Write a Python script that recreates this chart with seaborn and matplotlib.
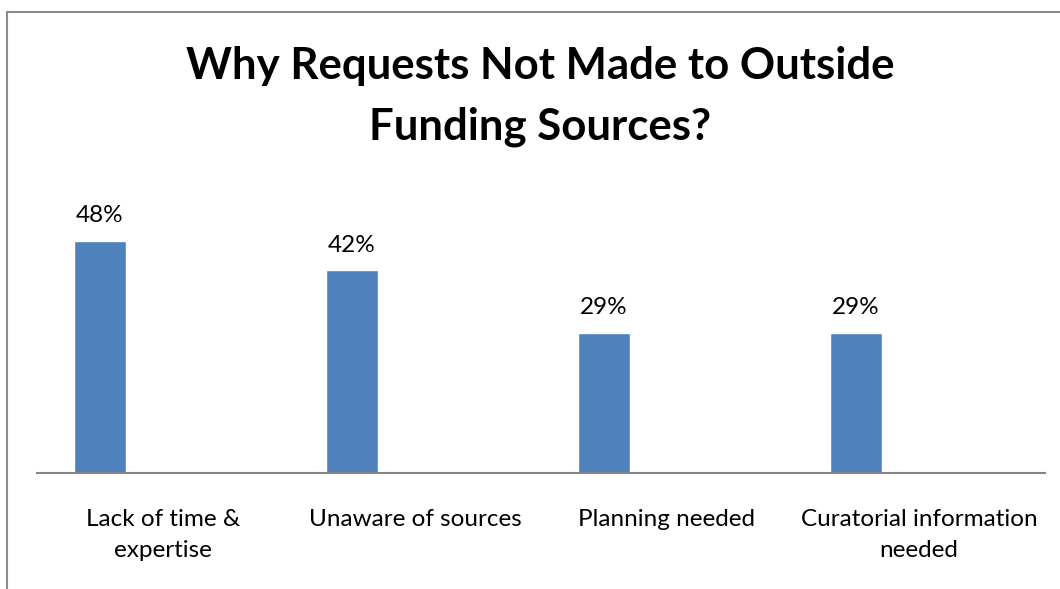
import matplotlib
matplotlib.use("Agg")
import matplotlib.pyplot as plt
import seaborn as sns
import pandas as pd
from matplotlib.lines import Line2D

categories = ["Lack of time &\nexpertise", "Unaware of sources", "Planning needed", "Curatorial information\nneeded"]
values = [0.48, 0.42, 0.29, 0.29]
value_labels = ["48%", "42%", "29%", "29%"]
title = "Why Requests Not Made to Outside\nFunding Sources?"

sns.set_theme(style="white")
plt.rcParams['font.family'] = ['Lato', 'DejaVu Sans']

df = pd.DataFrame({"category": categories, "value": values, "series": ["A"] * len(categories)})

fig = plt.figure(figsize=(10.6, 5.89), dpi=100)
W, H = 1060, 589
ax = fig.add_axes([37 / W, 1 - 473 / H, (1045 - 37) / W, (473 - 183) / H])

sns.barplot(data=df, x="category", y="value", hue="series", hue_order=["A", "B"],
            order=categories, palette={"A": "#4F81BD", "B": "#C0504D"},
            dodge=True, width=1.0, gap=0.59, legend=False, ax=ax, errorbar=None,
            saturation=1)

for p, lab in zip([p for p in ax.patches if p.get_height() > 0], value_labels):
    ax.text(p.get_x() + p.get_width() / 2, p.get_height() + 0.03, lab,
            ha="center", va="bottom", fontsize=17.5, color="black")

ax.set_xlim(-0.5, len(categories) - 0.5)
ax.set_ylim(0, 0.6)
ax.set_yticks([])
ax.set_xlabel("")
ax.set_ylabel("")
for s in ["top", "right", "left"]:
    ax.spines[s].set_visible(False)
ax.spines["bottom"].set_color("#868686")
ax.spines["bottom"].set_linewidth(1.5)
ax.tick_params(axis="x", length=0, pad=26, labelsize=17.5, colors="black")
for t in ax.get_xticklabels():
    t.set_linespacing(1.6)
    t.set_va("top")

fig.text(540 / W, 1 - 46 / H, title, ha="center", va="top", fontsize=31.5,
         fontweight="bold", color="black", linespacing=1.62)

# chart border (left and top visible)
fig.add_artist(Line2D([7 / W, 7 / W], [0, 1 - 12 / H], transform=fig.transFigure,
                      color="#8C8C8C", lw=1.5))
fig.add_artist(Line2D([7 / W, 1], [1 - 12 / H, 1 - 12 / H], transform=fig.transFigure,
                      color="#8C8C8C", lw=1.5))

fig.savefig("out.png", dpi=100, facecolor="white")
